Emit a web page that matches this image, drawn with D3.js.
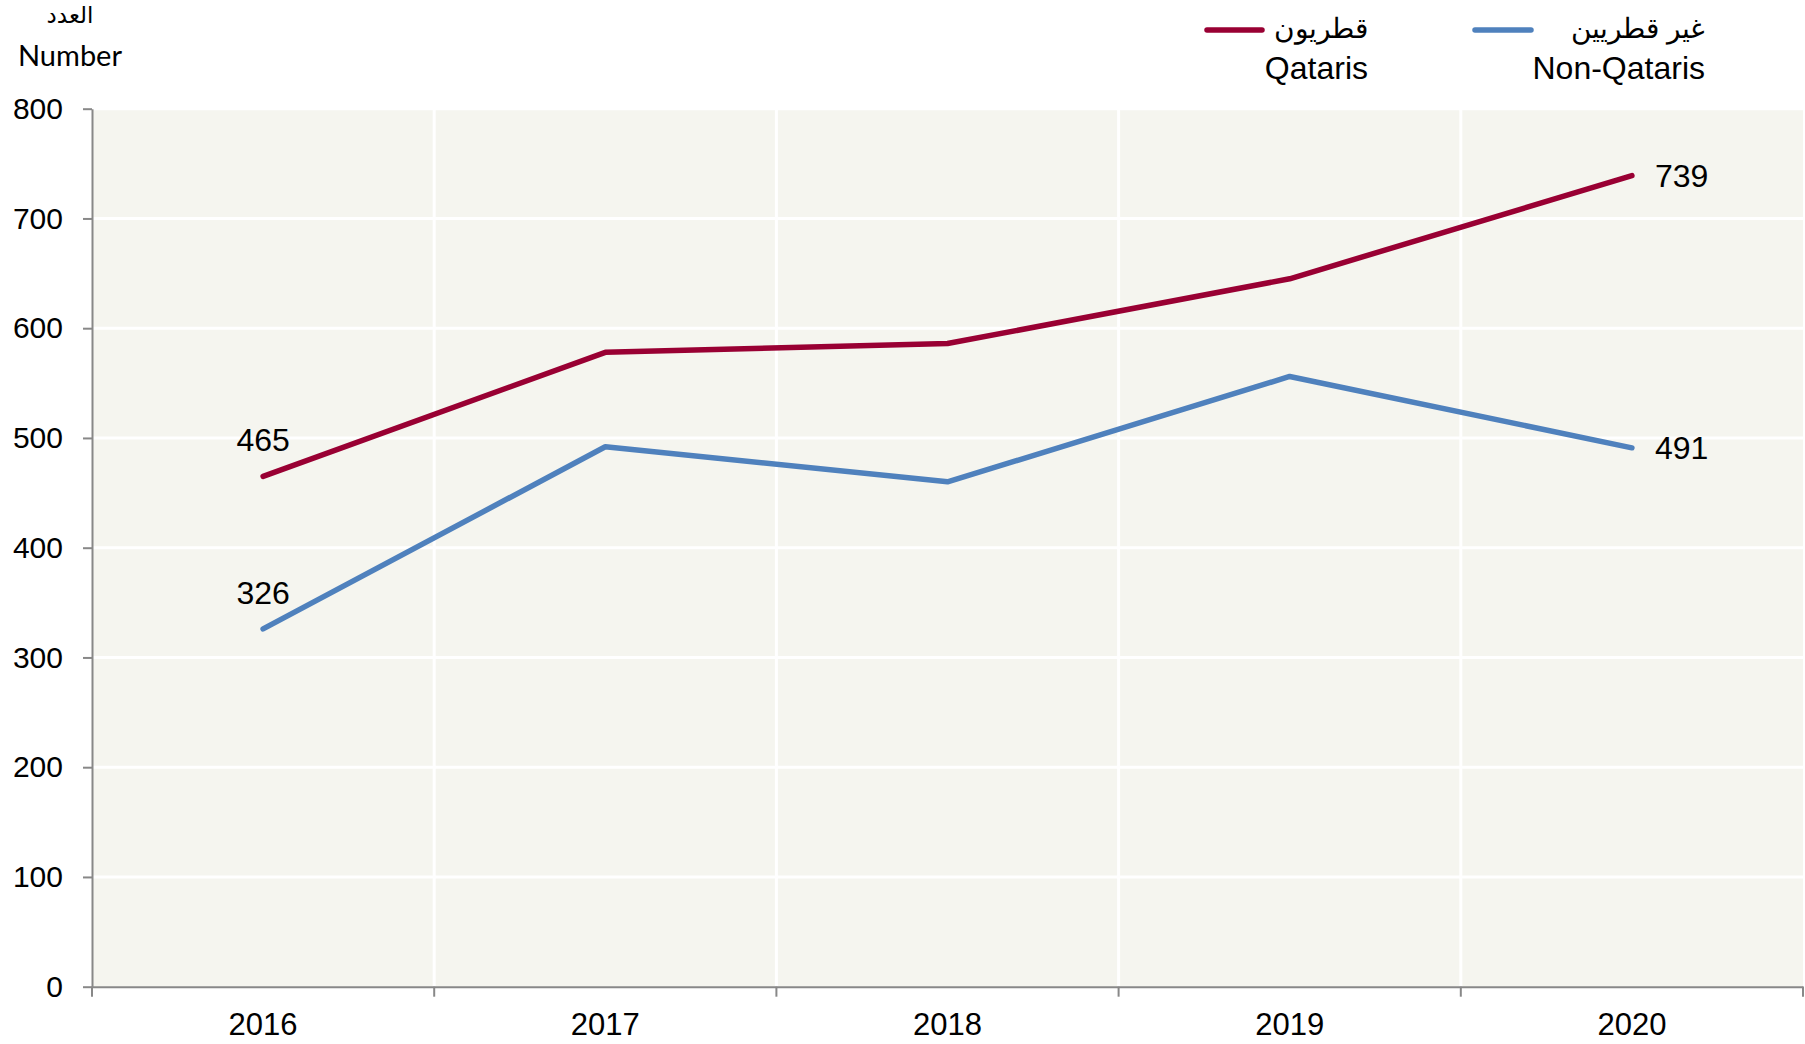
<!DOCTYPE html>
<html><head><meta charset="utf-8">
<script src="https://cdn.jsdelivr.net/npm/d3@7"></script>
<style>body{margin:0;background:#fff}svg{display:block}</style>
</head><body>
<script>
const years = ["2016","2017","2018","2019","2020"];
const qataris = [465, 578, 586, 645, 739];
const nonQataris = [326, 492, 460, 556, 491];
const yTicks = [0,100,200,300,400,500,600,700,800];
const seriesNames = [
  {ar:"قطريون", en:"Qataris", color:"#990033"},
  {ar:"غير قطريين", en:"Non-Qataris", color:"#4F81BD"}
];

const W=1805,H=1044;
const m={left:92,top:108.7,right:1803,bottom:986.7};
const svg=d3.select("body").append("svg").attr("width",W).attr("height",H);
const x=d3.scaleBand().domain(years).range([m.left,m.right]).padding(0);
const y=d3.scaleLinear().domain([0,800]).range([m.bottom,m.top]);
const font="'Liberation Sans', Arial, sans-serif";

svg.append("rect").attr("x",m.left).attr("y",m.top).attr("width",m.right-m.left).attr("height",m.bottom-m.top).attr("fill","#F5F5EF");

// gridlines
svg.append("g").selectAll("line").data(yTicks.slice(1)).join("line")
  .attr("x1",m.left).attr("x2",m.right).attr("y1",d=>y(d)).attr("y2",d=>y(d))
  .attr("stroke","#fff").attr("stroke-width",3);
svg.append("g").selectAll("line").data(years.slice(1)).join("line")
  .attr("x1",d=>x(d)).attr("x2",d=>x(d)).attr("y1",m.top).attr("y2",m.bottom)
  .attr("stroke","#fff").attr("stroke-width",3);

// y axis
const ya=svg.append("g").attr("transform",`translate(${m.left},0)`)
  .call(d3.axisLeft(y).tickValues(yTicks).tickSize(9).tickPadding(20).tickSizeOuter(0));
ya.select(".domain").attr("stroke","#888").attr("stroke-width",2);
ya.selectAll(".tick line").attr("stroke","#888").attr("stroke-width",2);
ya.selectAll("text").attr("font-family",font).attr("font-size",30).attr("fill","#000");

// x axis
const xa=svg.append("g").attr("transform",`translate(0,${m.bottom})`)
  .call(d3.axisBottom(x).tickSize(0).tickPadding(26));
xa.select(".domain").attr("stroke","#888").attr("stroke-width",2);
xa.selectAll("text").attr("font-family",font).attr("font-size",31).attr("fill","#000");
const bounds=years.map(d=>x(d)).concat([m.right]);
svg.append("g").selectAll("line").data(bounds).join("line")
  .attr("x1",d=>d).attr("x2",d=>d).attr("y1",m.bottom).attr("y2",m.bottom+10)
  .attr("stroke","#888").attr("stroke-width",2);

// lines
const line=d3.line().x((d,i)=>x(years[i])+x.bandwidth()/2).y(d=>y(d));
[qataris,nonQataris].forEach((s,k)=>{
  svg.append("path").datum(s).attr("d",line).attr("fill","none")
    .attr("stroke",seriesNames[k].color).attr("stroke-width",5.5)
    .attr("stroke-linecap","round").attr("stroke-linejoin","round");
});

// data labels
const cx=i=>x(years[i])+x.bandwidth()/2;
const lab=(t,xx,yy,anchor)=>svg.append("text").attr("x",xx).attr("y",yy).attr("text-anchor",anchor)
  .attr("font-family",font).attr("font-size",32).attr("fill","#000").text(t);
lab(qataris[0],cx(0),y(qataris[0])-25,"middle");
lab(nonQataris[0],cx(0),y(nonQataris[0])-25,"middle");
lab(qataris[4],cx(4)+23,y(qataris[4])+11,"start");
lab(nonQataris[4],cx(4)+23,y(nonQataris[4])+11,"start");

// axis title
svg.append("text").attr("x",70).attr("y",23).attr("text-anchor","middle").attr("font-family","'DejaVu Sans',sans-serif").attr("font-size",23).text("العدد");
svg.append("text").attr("x",70).attr("y",66).attr("text-anchor","middle").attr("font-family","Lato, 'Open Sans', sans-serif").attr("font-size",29).text("Number");

// legend
const leg=[{x1:1207,x2:1262,tr:1368},{x1:1475,x2:1531,tr:1705}];
leg.forEach((l,k)=>{
  svg.append("line").attr("x1",l.x1).attr("x2",l.x2).attr("y1",30).attr("y2",30)
    .attr("stroke",seriesNames[k].color).attr("stroke-width",5.5).attr("stroke-linecap","round");
  svg.append("text").attr("x",l.tr).attr("y",38).attr("text-anchor","end").attr("font-family",font).attr("font-size",28).text(seriesNames[k].ar);
  svg.append("text").attr("x",l.tr).attr("y",79).attr("text-anchor","end").attr("font-family",font).attr("font-size",32).text(seriesNames[k].en);
});
</script>
</body></html>
